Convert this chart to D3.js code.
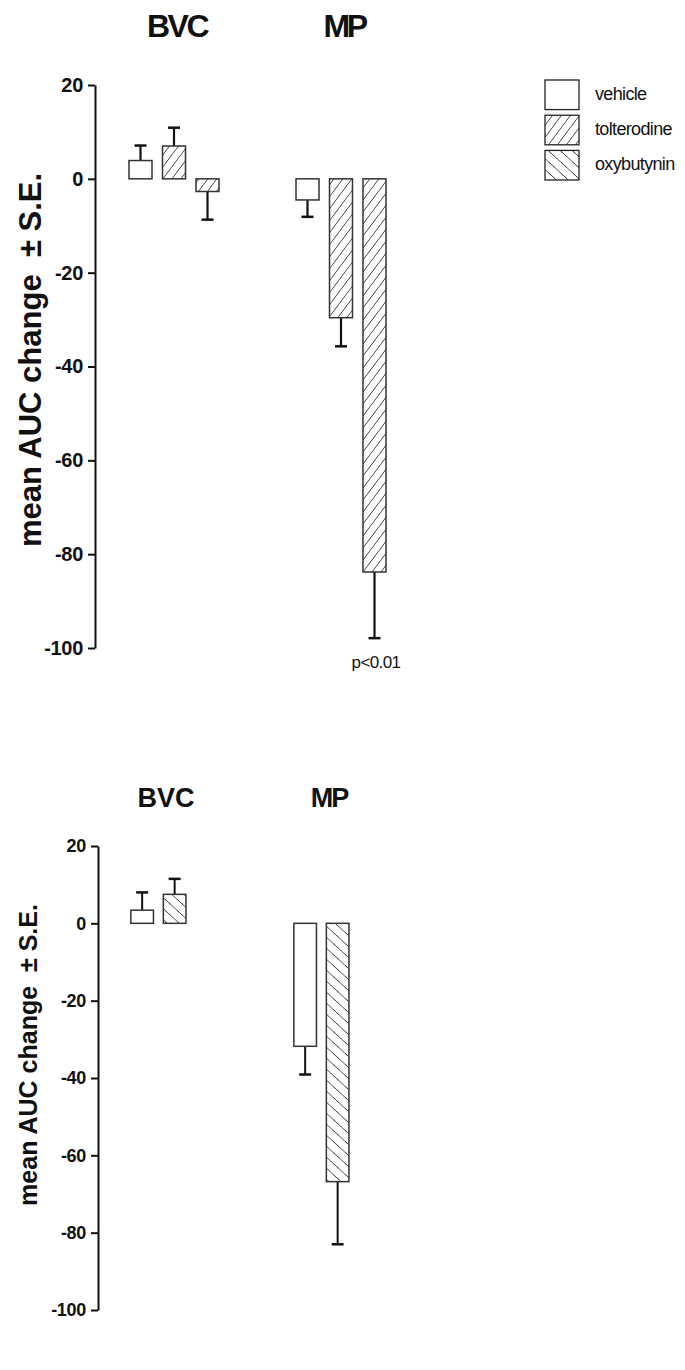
<!DOCTYPE html>
<html>
<head>
<meta charset="utf-8">
<script src="https://cdn.jsdelivr.net/npm/d3@7/dist/d3.min.js"></script>
<style>
  body { margin: 0; background: #fff; }
  svg { display: block; }
</style>
</head>
<body>
<div class="canvas"></div>
<script>
// data
var groups = ["BVC", "MP"];
var topTreatments = ["vehicle", "tolterodine", "oxybutynin"];
var topMeans = { BVC: [3.9, 7.0, -2.7], MP: [-4.5, -29.6, -83.8] };
var topSE    = { BVC: [3.2, 3.9, 6.0],  MP: [3.6, 6.1, 14.1] };
var topHatch = ["none", "fwd", "fwd"];   // as printed in the figure

var bottomTreatments = ["vehicle", "oxybutynin"];
var bottomMeans = { BVC: [3.4, 7.5], MP: [-31.8, -66.8] };
var bottomSE    = { BVC: [4.6, 4.0], MP: [7.3, 16.2] };
var bottomHatch = ["none", "back"];

var yTicks = [20, 0, -20, -40, -60, -80, -100];
var legendItems = ["vehicle", "tolterodine", "oxybutynin"];
var legendHatch = ["none", "fwd", "back"];
var yLabel = "mean AUC change  \u00b1 S.E.";

var W = 685, H = 1370;
var font = "'Liberation Sans', Arial, Helvetica, sans-serif";

var svg = d3.select("body div.canvas").append("svg")
	.attr("width", W)
	.attr("height", H);

var defs = svg.append("defs");
// forward hatch "/"
var pf = defs.append("pattern").attr("id", "fwd")
	.attr("patternUnits", "userSpaceOnUse")
	.attr("width", 9).attr("height", 12);
pf.append("path").attr("d", "M-3,4 L3,-4 M0,12 L9,0 M6,16 L12,8")
	.attr("stroke", "#333").attr("stroke-width", 0.9);
// back hatch "\"
var pb = defs.append("pattern").attr("id", "back")
	.attr("patternUnits", "userSpaceOnUse")
	.attr("width", 12).attr("height", 11);
pb.append("path").attr("d", "M-3,-2.75 L3,2.75 M0,0 L12,11 M9,8.25 L15,13.75")
	.attr("stroke", "#444").attr("stroke-width", 0.9);

function fillFor(h) {
	if (h == "fwd") return "url(#fwd)";
	if (h == "back") return "url(#back)";
	return "#fff";
}

function drawPanel(o) {
	var g = svg.append("g");
	var y = d3.scaleLinear().domain([-100, 20]).range([o.y0, o.y1]);
	var x = d3.scaleBand().domain(groups).range(o.xRange);
	var xi = d3.scaleBand().domain(o.treatments)
		.range([-o.inner / 2, o.inner / 2])
		.paddingInner(o.padIn).paddingOuter(0);

	// axis (plain hyphen minus, like the original)
	var ax = g.append("g")
		.attr("transform", "translate(" + o.axisX + ",0)")
		.call(d3.axisLeft(y).tickValues(yTicks).tickSize(7).tickSizeOuter(0)
			.tickPadding(o.tickPad).tickFormat(function(d) { return String(d); }));
	ax.select(".domain").attr("stroke", "#111").attr("stroke-width", o.axisW);
	ax.selectAll(".tick line").attr("stroke", "#111").attr("stroke-width", o.axisW);
	ax.selectAll(".tick text")
		.style("font-family", font)
		.style("font-weight", "bold")
		.style("font-size", o.tickFont + "px")
		.style("letter-spacing", "-0.3px")
		.attr("fill", "#111");

	// y label
	g.append("text")
		.attr("transform", "translate(" + o.labelX + "," + o.labelY + ") rotate(-90)")
		.attr("text-anchor", "middle")
		.style("font-family", font)
		.style("font-weight", "bold")
		.style("font-size", o.labelFont + "px")
		.style("white-space", "pre")
		.attr("fill", "#111")
		.text(yLabel);

	// group titles
	groups.forEach(function(grp) {
		g.append("text")
			.attr("x", x(grp) + x.bandwidth() / 2 + o.titleDx)
			.attr("y", o.titleY)
			.attr("text-anchor", "middle")
			.style("font-family", font)
			.style("font-weight", "bold")
			.style("font-size", o.titleFont + "px")
			.style("letter-spacing", (grp == "MP" ? o.titleLsMP : o.titleLs) + "px")
			.attr("fill", "#111")
			.text(grp);
	});

	// bars + one-sided error bars
	groups.forEach(function(grp) {
		var cx = x(grp) + x.bandwidth() / 2;
		o.treatments.forEach(function(t, i) {
			var v = o.means[grp][i], se = o.se[grp][i];
			var bx = cx + xi(t), bw = xi.bandwidth();
			var mid = bx + bw / 2;
			var tip = v >= 0 ? v + se : v - se;
			g.append("line")
				.attr("x1", mid).attr("x2", mid)
				.attr("y1", y(v)).attr("y2", y(tip))
				.attr("stroke", "#111").attr("stroke-width", o.errW);
			g.append("line")
				.attr("x1", mid - 6).attr("x2", mid + 6)
				.attr("y1", y(tip)).attr("y2", y(tip))
				.attr("stroke", "#111").attr("stroke-width", 2.5);
			g.append("rect")
				.attr("x", bx)
				.attr("y", y(Math.max(0, v)))
				.attr("width", bw)
				.attr("height", Math.abs(y(v) - y(0)))
				.attr("fill", fillFor(o.hatch[i]))
				.attr("stroke", "#333")
				.attr("stroke-width", 1.5);
		});
	});
	return { g: g, y: y, x: x };
}

var topPanel = drawPanel({
	y0: 648, y1: 85, xRange: [90.5, 424.5], inner: 90, padIn: 10.5 / 33.5,
	treatments: topTreatments, means: topMeans, se: topSE, hatch: topHatch,
	axisX: 95, axisW: 2, tickPad: 5, tickFont: 20,
	labelX: 41, labelY: 360, labelFont: 31,
	titleY: 37, titleDx: 3, titleFont: 32, titleLs: -2.5, titleLsMP: -3.5,
	errW: 2.2
});

// p value note under the oxybutynin MP bar
topPanel.g.append("text")
	.attr("x", topPanel.x("MP") + topPanel.x.bandwidth() / 2 + 35)
	.attr("y", 668)
	.attr("text-anchor", "middle")
	.style("font-family", font)
	.style("font-size", "17px")
	.style("letter-spacing", "-0.6px")
	.attr("fill", "#111")
	.text("p<0.01");

drawPanel({
	y0: 1310, y1: 846, xRange: [76.9, 402.9], inner: 55.1, padIn: 9.9 / 32.5,
	treatments: bottomTreatments, means: bottomMeans, se: bottomSE, hatch: bottomHatch,
	axisX: 98, axisW: 2, tickPad: 5, tickFont: 18,
	labelX: 37, labelY: 1055, labelFont: 25,
	titleY: 807, titleDx: 7.5, titleFont: 27, titleLs: 0, titleLsMP: -2,
	errW: 2
});

// legend
var leg = svg.append("g");
var ly = d3.scaleBand().domain(legendItems).range([80, 180]).paddingInner(0.16);
legendItems.forEach(function(name, i) {
	leg.append("rect")
		.attr("x", 545).attr("y", ly(name))
		.attr("width", 34).attr("height", ly.bandwidth())
		.attr("fill", fillFor(legendHatch[i]))
		.attr("stroke", "#222").attr("stroke-width", 1.3);
	leg.append("text")
		.attr("x", 595).attr("y", ly(name) + ly.bandwidth() / 2 + 5)
		.style("font-family", font)
		.style("font-size", "18px")
		.style("letter-spacing", "-0.65px")
		.attr("fill", "#111")
		.text(name);
});
</script>
</body>
</html>
